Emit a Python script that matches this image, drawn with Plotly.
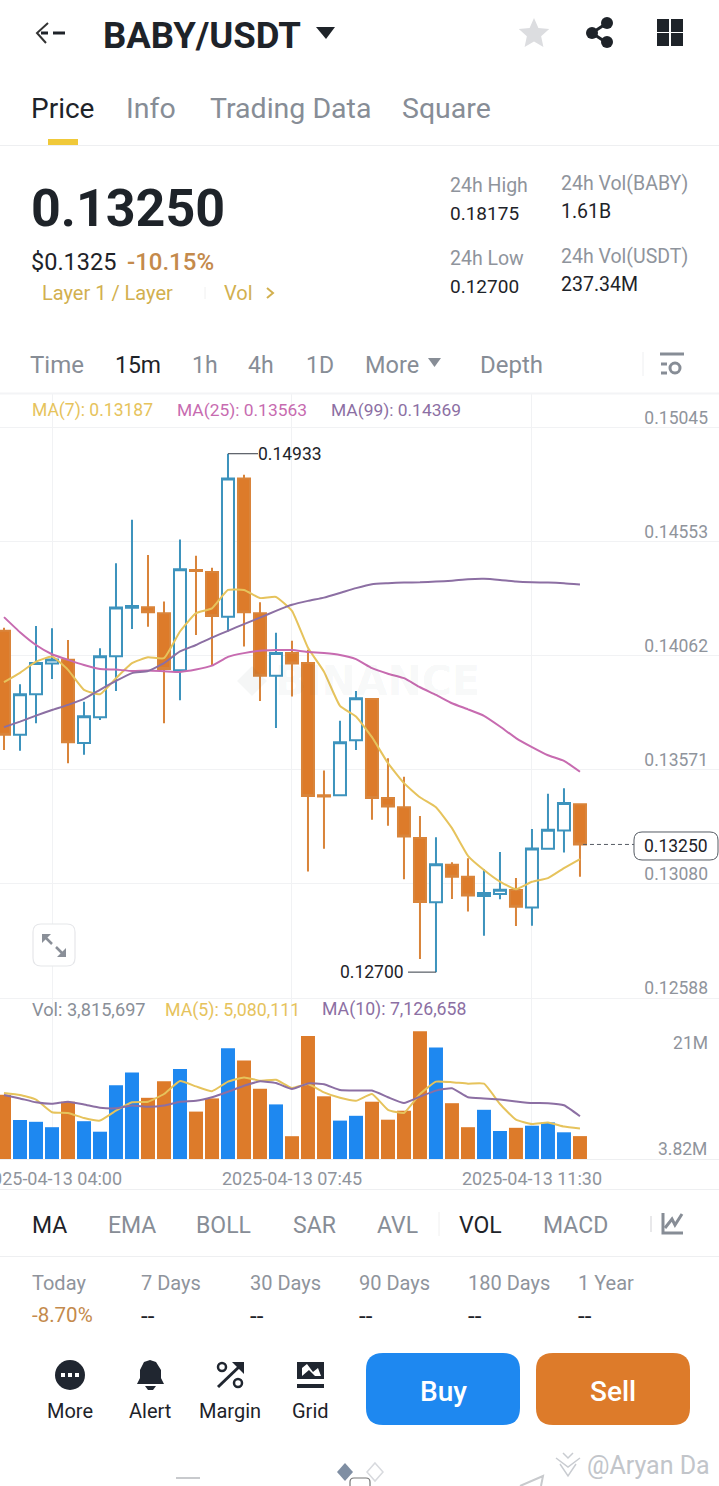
import math
import pandas as pd
import plotly.graph_objects as go

W, H = 719, 1486
FONT = "Roboto"
DARK = "#1e2329"
GREY = "#8a8f98"
GOLD = "#e6c35c"
PINK = "#c76bb0"
PURP = "#8c6fa3"
ORANGE = "#dd7b2a"
BLUE = "#1e88f0"
TEAL = "#3d93bd"
GRID = "#f1f2f4"

# ---------- data ----------
start_time = "2025-04-13 03:15"
opens = [.14170,.13722,.13897,.14029,.14045,.13687,.13798,.14061,.14269,.14272,.14246,.14000,.14432,.14423,.14231,.14826,.14246,.13976,.14074,
         .14031,.13462,.13462,.13699,.13876,.13450,.13410,.13278,.13001,.13162,.13111,.13028,.13037,.13054,.12978,.13231,.13310,.13423]
closes = [.13722,.13897,.14031,.14046,.13690,.13802,.14061,.14270,.14277,.14250,.14006,.14435,.14428,.14234,.14826,.14250,.13976,.14074,.14029,
          .13459,.13456,.13690,.13880,.13450,.13413,.13284,.13002,.13165,.13111,.13030,.13041,.13055,.12982,.13232,.13313,.13429,.13250]
highs = [.14183,.13940,.14191,.14181,.14131,.13865,.14095,.14461,.14648,.14497,.14296,.14563,.14493,.14442,.14933,.14842,.14293,.14162,.14127,
         .14088,.13568,.13783,.13911,.13876,.13621,.13542,.13373,.13281,.13173,.13191,.13143,.13217,.13105,.13316,.13468,.13492,.13423]
lows = [.13657,.13654,.13772,.13963,.13600,.13636,.13786,.13911,.14178,.14188,.13772,.13871,.14152,.14023,.14167,.14102,.13868,.13751,.13887,
        .13133,.13231,.13462,.13657,.13356,.13330,.13100,.12757,.12700,.13015,.12961,.12857,.13014,.12899,.12900,.13231,.13215,.13111]
ma7 = [.13949,.13989,.14037,.14059,.14002,.13916,.13897,.13966,.14031,.14056,.14052,.14167,.14246,.14267,.14346,.14346,.14311,.14316,.14256,
       .14097,.13994,.13847,.13801,.13712,.13600,.13514,.13453,.13410,.13320,.13201,.13140,.13090,.13057,.13089,.13105,.13148,.13187]
ma25 = [.14229,.14164,.14109,.14069,.14045,.14023,.14006,.14003,.13997,.13999,.13996,.13993,.14003,.14020,.14058,.14074,.14084,.14087,.14087,
        .14079,.14074,.14066,.14048,.14009,.13985,.13966,.13927,.13894,.13858,.13832,.13804,.13758,.13708,.13669,.13634,.13610,.13563]
ma99 = [.13755,.13779,.13805,.13829,.13851,.13877,.13916,.13954,.13988,.13997,.14031,.14081,.14109,.14141,.14170,.14199,.14227,.14256,.14282,
        .14299,.14313,.14333,.14354,.14371,.14375,.14378,.14379,.14382,.14386,.14392,.14394,.14389,.14382,.14379,.14378,.14375,.14369]
volume = [10.7,6.5,6.2,5.3,9.55,6.3,4.55,12.3,14.4,10.2,12.95,15.0,7.9,10.1,18.45,16.4,11.7,9.1,3.8,20.5,10.45,6.4,7.2,
          9.55,6.55,8.05,21.3,18.6,9.3,5.3,8.2,4.67,5.2,5.55,6.1,4.45,3.8157]
vol_ma5 = [11.0,10.67,9.9,7.8,7.67,6.83,6.4,8.05,9.45,9.55,10.83,13.0,12.1,11.3,12.9,13.6,13.05,13.2,11.83,12.5,11.1,10.2,9.7,
           10.83,8.2,7.67,10.83,12.9,12.8,12.55,12.55,9.17,6.55,5.83,6.1,5.4,5.08]
vol_ma10 = [10.67,10.1,9.45,9.2,9.55,9.1,8.55,8.45,8.9,8.7,8.9,9.55,9.7,10.3,11.2,12.2,12.95,12.67,11.67,12.6,12.45,11.5,11.4,
            11.4,10.3,9.33,10.4,11.4,11.8,10.3,10.1,9.9,9.6,9.33,9.3,8.95,7.13]
price_ticks = [.15045,.14553,.14062,.13571,.13080,.12588]
price_tick_labels = ["0.15045","0.14553","0.14062","0.13571","0.13080","0.12588"]
vol_ticks = [19.33]
vol_tick_labels = ["21M"]
vol_floor_label = "3.82M"
last_price, high_price, low_price = 0.13250, 0.14933, 0.12700

times = pd.date_range(start_time, periods=len(opens), freq="15min")
period = pd.Timedelta(minutes=15)
x_range = [times[0] - 0.25 * period, times[0] + 44.69 * period]
bar_colors = [BLUE if c >= o else ORANGE for o, c in zip(opens, closes)]


def fx(x):
    return x / W


def fy(y):
    return 1 - y / H


annotations, shapes = [], []


def txt(x, y, s, size=20, color=DARK, anchor="left", bold=False, weight=None, font=FONT):
    f = dict(family=font, size=size, color=color)
    if weight:
        f["weight"] = weight
    annotations.append(dict(x=fx(x - 1 if anchor == "left" else x), y=fy(y), xref="paper", yref="paper",
                            text=f"<b>{s}</b>" if bold else s,
                            showarrow=False, xanchor=anchor, yanchor="middle", borderpad=0, font=f))


def poly(points, color=None, line=None, width=0, close=True):
    d = "M " + " L ".join(f"{fx(a):.5f} {fy(b):.5f}" for a, b in points) + (" Z" if close else "")
    shapes.append(dict(type="path", path=d, xref="paper", yref="paper", fillcolor=color or "rgba(0,0,0,0)",
                       line=dict(color=line or "rgba(0,0,0,0)", width=width)))


def rrect(x0, y0, x1, y1, r, fill=None, line=None, width=0):
    c = lambda a, b: f"{fx(a):.5f} {fy(b):.5f}"
    d = (f"M {c(x0+r,y0)} L {c(x1-r,y0)} Q {c(x1,y0)} {c(x1,y0+r)} L {c(x1,y1-r)} Q {c(x1,y1)} {c(x1-r,y1)} "
         f"L {c(x0+r,y1)} Q {c(x0,y1)} {c(x0,y1-r)} L {c(x0,y0+r)} Q {c(x0,y0)} {c(x0+r,y0)} Z")
    shapes.append(dict(type="path", path=d, xref="paper", yref="paper", fillcolor=fill or "rgba(0,0,0,0)",
                       line=dict(color=line or "rgba(0,0,0,0)", width=width)))


def circ(cx, cy, r, fill=None, line=None, width=0):
    shapes.append(dict(type="circle", xref="paper", yref="paper", x0=fx(cx - r), x1=fx(cx + r), y0=fy(cy + r), y1=fy(cy - r),
                       fillcolor=fill or "rgba(0,0,0,0)", line=dict(color=line or "rgba(0,0,0,0)", width=width)))


def hline(x0, x1, y, color="#eeeff1", width=1):
    shapes.append(dict(type="line", xref="paper", yref="paper", x0=fx(x0), x1=fx(x1), y0=fy(y), y1=fy(y),
                       line=dict(color=color, width=width)))


def vline(x, y0, y1, color="#eeeff1", width=1):
    shapes.append(dict(type="line", xref="paper", yref="paper", x0=fx(x), x1=fx(x), y0=fy(y0), y1=fy(y1),
                       line=dict(color=color, width=width)))


fig = go.Figure()
fig.add_trace(go.Candlestick(
    x=times, open=opens, high=highs, low=lows, close=closes, xaxis="x", yaxis="y", whiskerwidth=0,
    increasing=dict(line=dict(color=TEAL, width=2), fillcolor="#ffffff"),
    decreasing=dict(line=dict(color="#d9843a", width=2), fillcolor=ORANGE), showlegend=False))
for vals, col in ((ma7, GOLD), (ma25, PINK), (ma99, PURP)):
    fig.add_trace(go.Scatter(x=times, y=vals, mode="lines", xaxis="x", yaxis="y", showlegend=False,
                             line=dict(color=col, width=2, shape="spline", smoothing=0.4)))
fig.add_trace(go.Bar(x=times, y=volume, xaxis="x2", yaxis="y2", marker=dict(color=bar_colors, line=dict(width=0)), showlegend=False))
for vals, col in ((vol_ma5, GOLD), (vol_ma10, PURP)):
    fig.add_trace(go.Scatter(x=times, y=vals, mode="lines", xaxis="x2", yaxis="y2", showlegend=False,
                             line=dict(color=col, width=2, shape="spline", smoothing=0.4)))

# ---------- header ----------
poly([(48, 23), (37, 33), (46, 43)], line="#333", width=2, close=False)
hline(53, 65, 33, DARK, 3)
hline(41, 48, 33, DARK, 3)
txt(103, 35, "BABY/USDT", 36.5, DARK, bold=True)
poly([(316, 27), (335, 27), (326, 39)], DARK)
pts = []
for i in range(10):
    r = 16 if i % 2 == 0 else 7.5
    a = -math.pi / 2 + i * math.pi / 5
    pts.append((534 + r * math.cos(a), 34 + r * math.sin(a)))
poly(pts, "#dcdde0")
poly([(607, 23), (592, 33), (607, 43)], line=DARK, width=3, close=False)
circ(607, 23, 6, DARK); circ(592, 33, 6, DARK); circ(607, 42, 6, DARK)
for x0, y0 in ((657, 19), (671, 19), (657, 33), (671, 33)):
    poly([(x0, y0), (x0 + 12, y0), (x0 + 12, y0 + 13), (x0, y0 + 13)], DARK)
txt(31, 109, "Price", 28, DARK)
txt(126, 109, "Info", 28.5, "#878d96")
txt(210, 109, "Trading Data", 28.5, "#878d96")
txt(402, 109, "Square", 28.5, "#878d96")
poly([(48, 139), (78, 139), (78, 145), (48, 145)], "#f0c93a")
hline(0, W, 145.5)

# ---------- stats ----------
txt(31, 208, "0.13250", 52, DARK, bold=True)
txt(31, 262, "$0.1325", 23.5, DARK)
txt(127, 262, "-10.15%", 24, "#c48a4c", weight=500)
txt(42, 293, "Layer 1 / Layer", 20, "#d2b04f")
vline(205, 287, 299, "#f0f0f0")
txt(224, 293, "Vol", 20, "#d2b04f")
poly([(267, 288), (273, 293), (267, 298)], line="#d2b04f", width=2, close=False)
for x, y, s, c, z in ((450, 186, "24h High", "#8f949c", 19.5), (450, 214, "0.18175", DARK, 19), (561, 183, "24h Vol(BABY)", "#8f949c", 19.5),
                      (561, 212, "1.61B", DARK, 19.5), (450, 258, "24h Low", "#8f949c", 19.5), (450, 286, "0.12700", DARK, 19),
                      (561, 256, "24h Vol(USDT)", "#8f949c", 19.5), (561, 284, "237.34M", DARK, 19.5)):
    txt(x, y, s, z, c)

# ---------- interval tabs ----------
for x, s, c, z in ((30, "Time", "#878d96", 24), (115, "15m", DARK, 23), (192, "1h", "#878d96", 23), (248, "4h", "#878d96", 23),
                   (306, "1D", "#878d96", 23), (365, "More", "#878d96", 23.5), (480, "Depth", "#878d96", 24)):
    txt(x, 365, s, z, c)
poly([(428, 358), (441, 358), (434.5, 367)], "#878d96")
vline(643, 352, 376)
hline(660, 684, 354, "#878d96", 3)
hline(661, 667, 364, "#878d96", 3)
hline(661, 667, 373, "#878d96", 3)
circ(675, 368, 5, None, "#878d96", 3)
hline(0, W, 393.5, "#f3f4f6", 2)

# ---------- chart legends ----------
txt(32, 410, "MA(7): 0.13187", 17.5, GOLD)
txt(177, 410, "MA(25): 0.13563", 17.4, PINK)
txt(331, 410, "MA(99): 0.14369", 17.4, PURP)
txt(32, 1010, "Vol: 3,815,697", 18.2, GREY)
txt(165, 1010, "MA(5): 5,080,111", 17.8, GOLD)
txt(322, 1010, "MA(10): 7,126,658", 17.7, PURP)
txt(708, 1149, vol_floor_label, 17.5, "#8f949c", anchor="right")

# ---------- chart markers ----------
for xa, y, x0, x1 in ((times[14], high_price, 0, 30), (times[27], low_price, -28, 0)):
    shapes.append(dict(type="line", xref="x", yref="y", xsizemode="pixel", xanchor=xa, x0=x0, x1=x1, y0=y, y1=y,
                       line=dict(color="#555b63", width=1.2)))
annotations.append(dict(x=times[14], y=high_price, xref="x", yref="y", xshift=28, text=f"{high_price:.5f}", showarrow=False,
                        xanchor="left", yanchor="middle", font=dict(family=FONT, size=17.5, color=DARK)))
annotations.append(dict(x=times[27], y=low_price, xref="x", yref="y", xshift=-30, text=f"{low_price:.5f}", showarrow=False,
                        xanchor="right", yanchor="middle", font=dict(family=FONT, size=17.5, color=DARK)))
shapes.append(dict(type="line", xref="x", yref="y", xsizemode="pixel", xanchor=times[-1], x0=3, x1=54, y0=last_price, y1=last_price,
                   line=dict(color="#555b63", width=1, dash="4px,3px")))
rrect(634, 832, 718, 860, 8, "#ffffff", "#555b63", 1)
annotations.append(dict(x=fx(676), y=last_price, xref="paper", yref="y", yshift=-2, text=f"{last_price:.5f}", showarrow=False,
                        xanchor="center", yanchor="middle", bgcolor="rgba(0,0,0,0)",
                        font=dict(family=FONT, size=17.5, color=DARK)))
annotations.append(dict(x=fx(378), y=fy(681), xref="paper", yref="paper", text="<b>BINANCE</b>", showarrow=False,
                        xanchor="center", yanchor="middle", font=dict(family="DejaVu Sans", size=41, color="rgba(60,70,80,0.05)")))
poly([(252, 666), (267, 681), (252, 696), (237, 681)], "rgba(60,70,80,0.05)")

# ---------- expand button ----------
rrect(33, 924, 75, 966, 8, "#ffffff", "#e6e7ea", 1.2)
poly([(43, 935), (52, 944)], line="#8a8f98", width=2.5, close=False)
poly([(56, 947), (65, 956)], line="#8a8f98", width=2.5, close=False)
poly([(42, 943), (42, 934), (51, 934)], "#8a8f98")
poly([(66, 948), (66, 957), (57, 957)], "#8a8f98")

# ---------- indicator tabs ----------
hline(0, W, 1189.5)
for x, s, c in ((32, "MA", DARK), (108, "EMA", "#878d96"), (196, "BOLL", "#878d96"), (293, "SAR", "#878d96"),
                (377, "AVL", "#878d96"), (459, "VOL", DARK), (543, "MACD", "#878d96")):
    txt(x, 1225, s, 23, c)
vline(439, 1212, 1236, "#f0f0f0")
vline(651, 1216, 1232, "#e8e8ea", 2)
poly([(663, 1213), (663, 1233), (683, 1233)], line="#878d96", width=3, close=False)
poly([(665, 1228), (672, 1219), (675, 1225), (682, 1214)], line="#878d96", width=3, close=False)
hline(0, W, 1256.5)

# ---------- performance ----------
for x, s in ((32, "Today"), (141, "7 Days"), (250, "30 Days"), (359, "90 Days"), (468, "180 Days"), (578, "1 Year")):
    txt(x, 1283, s, 20, "#8f949c")
txt(32, 1315, "-8.70%", 20.5, "#c48a4c")
for x in (141, 250, 359, 468, 578):
    txt(x, 1316, "--", 24, DARK)

# ---------- bottom bar ----------
circ(70, 1375, 15, "#202630")
for dx in (-7, 0, 7):
    poly([(70 + dx - 2, 1373), (70 + dx + 2, 1373), (70 + dx + 2, 1377), (70 + dx - 2, 1377)], "#ffffff")
poly([(137, 1384), (140, 1378), (140, 1370), (144, 1362), (150, 1360), (156, 1362), (161, 1370), (161, 1378), (164, 1384)], "#202630")
poly([(145, 1386), (156, 1386), (153, 1390), (148, 1390)], "#202630")
poly([(218, 1387), (242, 1364)], line="#202630", width=3, close=False)
poly([(232, 1362), (244, 1362), (244, 1374)], "#202630")
circ(222, 1367, 4, None, "#202630", 2.5)
circ(238, 1383, 4, None, "#202630", 2.5)
poly([(297, 1362), (324, 1362), (324, 1379), (297, 1379)], "#202630")
poly([(302, 1368), (307, 1364), (313, 1372), (318, 1368), (321, 1376), (315, 1376), (309, 1370), (302, 1376)], "#ffffff")
hline(297, 324, 1386, "#202630", 4)
for x, s in ((70, "More"), (150, "Alert"), (230, "Margin"), (310, "Grid")):
    txt(x, 1411, s, 20, DARK, anchor="center")
rrect(366, 1353, 520, 1425, 17, BLUE)
rrect(536, 1353, 690, 1425, 17, ORANGE)
txt(443, 1391, "Buy", 28, "#ffffff", anchor="center", weight=500)
txt(613, 1391, "Sell", 28, "#ffffff", anchor="center", weight=500)

# ---------- bottom remnants ----------
hline(176, 200, 1478, "#c8cacd", 2)
poly([(345, 1463), (353, 1472), (345, 1481), (337, 1472)], "#7f8ea3")
poly([(375, 1463), (383, 1472), (375, 1481), (367, 1472)], "#ffffff", "#d8dade", 1.5)
rrect(350, 1478, 370, 1492, 4, "#ffffff", "#777", 1.2)
poly([(520, 1486), (543, 1476), (541, 1486)], "#ffffff", "#c8cacd", 2, close=False)
poly([(556, 1458), (568, 1467), (580, 1458)], line="#c9ccd1", width=1.5, close=False)
poly([(560, 1464), (568, 1476), (576, 1464)], line="#c9ccd1", width=1.5, close=False)
poly([(563, 1453), (568, 1458), (573, 1453)], line="#c9ccd1", width=1.5, close=False)
txt(587, 1465, "@Aryan Da", 25, "#c2c5ca")

fig.update_layout(
    width=W, height=H, margin=dict(l=0, r=0, t=0, b=0, autoexpand=False), paper_bgcolor="#ffffff", plot_bgcolor="#ffffff",
    boxgap=0.25, boxgroupgap=0, bargap=0.125, showlegend=False, annotations=annotations, shapes=shapes,
    xaxis=dict(type="date", domain=[0, 1], range=x_range, anchor="y", rangeslider=dict(visible=False), showticklabels=False,
               automargin=False, showgrid=True, gridcolor=GRID, gridwidth=1, tick0="2025-04-13 04:00", dtick=13500000, zeroline=False),
    xaxis2=dict(type="date", domain=[0, 1], range=x_range, anchor="y2", matches="x", showgrid=True, gridcolor=GRID, gridwidth=1,
                automargin=False, tick0="2025-04-13 04:00", dtick=13500000, tickformat="%Y-%m-%d %H:%M", ticks="outside", ticklen=3,
                tickcolor="rgba(0,0,0,0)", tickfont=dict(family=FONT, size=18, color="#8f949c"), ticklabeloverflow="allow",
                showline=True, linecolor="#eeeff1", zeroline=False),
    yaxis=dict(domain=[fy(1000), fy(394)], range=[.12580, .15190], anchor="x", side="right", showgrid=True, gridcolor=GRID,
               automargin=False, tickmode="array", tickvals=price_ticks, ticktext=price_tick_labels, ticklabelposition="inside",
               tickfont=dict(family=FONT, size=17.5, color="#8f949c"), ticklabelshift=-10, ticklabelstandoff=8, zeroline=False),
    yaxis2=dict(domain=[fy(1159), fy(1000)], range=[0, 26.5], anchor="x2", side="right", showgrid=False,
                automargin=False, tickmode="array", tickvals=vol_ticks, ticktext=vol_tick_labels, ticklabelposition="inside",
                tickfont=dict(family=FONT, size=17.5, color="#8f949c"), ticklabelstandoff=8, zeroline=False),
)
fig.write_html("out.html", config=dict(displayModeBar=False), post_script="document.body.style.margin='0';")
